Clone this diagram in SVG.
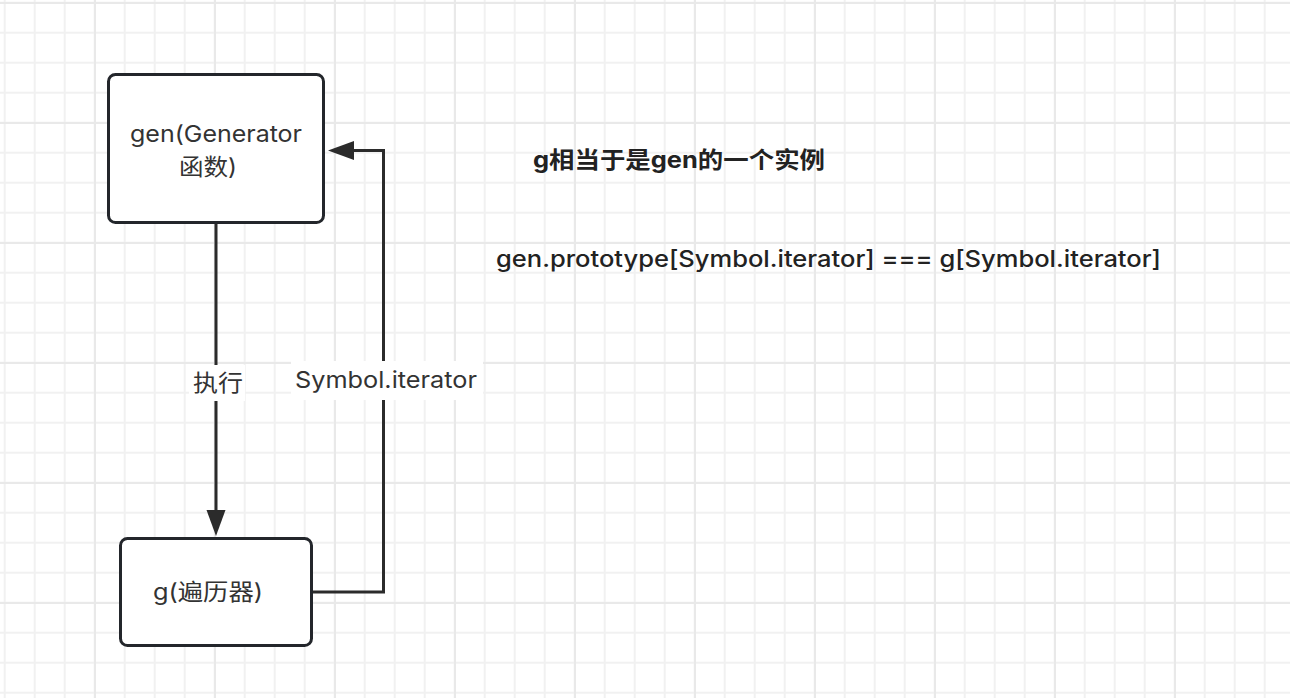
<svg xmlns="http://www.w3.org/2000/svg" width="1290" height="698" viewBox="0 0 1290 698">
  <defs>
    <pattern id="gridThin" patternUnits="userSpaceOnUse" x="-10.3" y="-12.3" width="30" height="30">
      <path d="M15 0 V30 M0 15 H30" stroke="#f1f1f1" stroke-width="2" fill="none"/>
    </pattern>
    <pattern id="gridThick" patternUnits="userSpaceOnUse" x="35" y="-57" width="120" height="120">
      <path d="M60 0 V120 M0 60 H120" stroke="#e9e9e9" stroke-width="2" fill="none"/>
    </pattern>
    <marker id="arrow" markerUnits="userSpaceOnUse" markerWidth="27" markerHeight="20" refX="1" refY="9.5" orient="auto">
      <path d="M0,0 L26,9.5 L0,19 Z" fill="#2b2b2b"/>
    </marker>
    <style>
      .node { fill: #ffffff; stroke: #23262b; stroke-width: 3; }
      .edge { fill: none; stroke: #2b2b2b; stroke-width: 3; }
      .t { font-family: Inter, "Noto Sans", "Noto Sans CJK SC", sans-serif; fill: #333333; font-size: 23px; }
      .b { font-family: Inter, "Noto Sans", "Noto Sans CJK SC", sans-serif; fill: #222222; font-size: 23px; font-weight: 600; }
      .lbl { fill: #ffffff; }
    </style>
  </defs>
  <rect width="1290" height="698" fill="#ffffff"/>
  <rect width="1290" height="698" fill="url(#gridThin)"/>
  <rect width="1290" height="698" fill="url(#gridThick)"/>

  <g id="connectors">
    <g id="edge-exec">
      <path class="edge" d="M216 224 V511" marker-end="url(#arrow)"/>
      <rect class="lbl" x="189" y="365" width="56" height="36"/>
      <text class="t" x="193" y="391" textLength="50" lengthAdjust="spacingAndGlyphs">执行</text>
    </g>
    <g id="edge-iter">
      <path class="edge" d="M313 592 H383.5 V150.5 H353" marker-end="url(#arrow)"/>
      <rect class="lbl" x="291" y="361" width="192" height="39"/>
      <text class="t" x="295" y="388" textLength="182" lengthAdjust="spacingAndGlyphs">Symbol.iterator</text>
    </g>
  </g>

  <g id="node-gen">
    <rect class="node" x="108.5" y="74.5" width="215" height="148" rx="7"/>
    <text class="t" x="130" y="142" textLength="172" lengthAdjust="spacingAndGlyphs">gen(Generator</text>
    <text class="t" x="179" y="175" textLength="58" lengthAdjust="spacingAndGlyphs">函数)</text>
  </g>

  <g id="node-g">
    <rect class="node" x="120.5" y="538.5" width="191" height="107" rx="7"/>
    <text class="t" x="153" y="600" textLength="110" lengthAdjust="spacingAndGlyphs">g(遍历器)</text>
  </g>

  <g id="note-instance">
    <text class="b" x="533" y="168" textLength="292" lengthAdjust="spacingAndGlyphs" style="font-weight:700">g相当于是gen的一个实例</text>
  </g>
  <g id="note-proto">
    <text class="b" x="496" y="267" textLength="665" lengthAdjust="spacingAndGlyphs" style="font-weight:500">gen.prototype[Symbol.iterator] === g[Symbol.iterator]</text>
  </g>
</svg>
